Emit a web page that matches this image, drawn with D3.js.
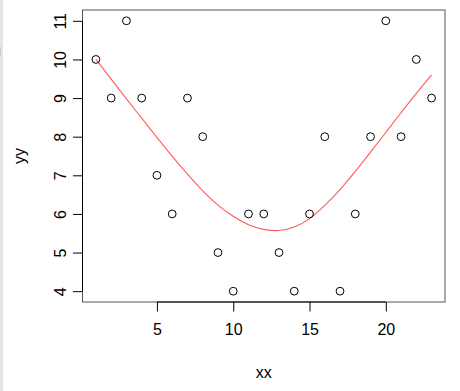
<!DOCTYPE html>
<html>
<head>
<meta charset="utf-8">
<script src="https://cdn.jsdelivr.net/npm/d3@7"></script>
<style>
  html, body { margin: 0; padding: 0; background: #fff; }
  svg { display: block; }
  text { font-family: "Liberation Sans", Arial, Helvetica, sans-serif; fill: #000; }
</style>
</head>
<body>
<svg id="chart" width="460" height="391"></svg>
<script>
// observed points
var xx = [1, 2, 3, 4, 5, 6, 7, 8, 9, 10, 11, 12, 13, 14, 15, 16, 17, 18, 19, 20, 21, 22, 23];
var yy = [10, 9, 11, 9, 7, 6, 9, 8, 5, 4, 6, 6, 5, 4, 6, 8, 4, 6, 8, 11, 8, 10, 9];

// red smoothed line
var fitX = [1, 2, 3, 4, 5, 6, 7, 8, 9, 10, 11, 12, 13, 14, 15, 16, 17, 18, 19, 20, 21, 22, 23];
var fitY = [10.0, 9.49, 8.98, 8.48, 7.98, 7.49, 7.03, 6.6, 6.23, 5.94, 5.72, 5.6, 5.57, 5.66, 5.88, 6.22, 6.63, 7.1, 7.6, 8.11, 8.62, 9.12, 9.6];

var xTicks = [5, 10, 15, 20];
var yTicks = [4, 5, 6, 7, 8, 9, 10, 11];

var svg = d3.select("#chart");
var box = {left: 82.5, right: 445, top: 10, bottom: 302};

// thin grey strip at the left edge of the window
svg.append("rect").attr("x", 0).attr("y", 0).attr("width", 3).attr("height", 391).style("fill", "#e3e5e9");
svg.append("rect").attr("x", 0).attr("y", 47).attr("width", 1).attr("height", 9).style("fill", "#c9ccd2");

// R pads the range by 4% on each side
var xPad = (d3.max(xx) - d3.min(xx)) * 0.04,
    yPad = (d3.max(yy) - d3.min(yy)) * 0.04;
var xScale = d3.scaleLinear().domain([d3.min(xx) - xPad, d3.max(xx) + xPad]).range([box.left, box.right]),
    yScale = d3.scaleLinear().domain([d3.min(yy) - yPad, d3.max(yy) + yPad]).range([box.bottom, box.top]);

// plot box
svg.append("rect")
    .attr("x", box.left)
    .attr("y", box.top)
    .attr("width", box.right - box.left)
    .attr("height", box.bottom - box.top)
    .style("fill", "none")
    .style("stroke", "#555")
    .style("stroke-width", 1);

// x axis
var xAxis = svg.append("g")
    .attr("transform", "translate(0," + box.bottom + ")")
    .call(d3.axisBottom(xScale).tickValues(xTicks).tickSize(9.5).tickPadding(12).tickSizeOuter(0));
xAxis.select(".domain").attr("d", "M" + xScale(xTicks[0]) + ",0H" + xScale(xTicks[xTicks.length - 1]));
xAxis.selectAll("text").style("font-size", "16px").style("font-family", "Liberation Sans, Arial, sans-serif");

// y axis
var yAxis = svg.append("g")
    .attr("transform", "translate(" + box.left + ",0)")
    .call(d3.axisLeft(yScale).tickValues(yTicks).tickSize(9.5).tickSizeOuter(0));
yAxis.select(".domain").attr("d", "M0," + yScale(yTicks[0]) + "V" + yScale(yTicks[yTicks.length - 1]));
yAxis.selectAll(".tick text")
    .attr("x", 0).attr("y", 0).attr("dy", null)
    .attr("transform", "translate(-22,0) rotate(-90)")
    .attr("text-anchor", "middle")
    .attr("dominant-baseline", "central")
    .style("font-size", "16px")
    .style("font-family", "Liberation Sans, Arial, sans-serif");

svg.selectAll(".domain, .tick line").style("stroke", "#000").style("stroke-width", 1);

// axis titles
svg.append("text")
    .attr("x", (box.left + box.right) / 2)
    .attr("y", 372)
    .attr("text-anchor", "middle")
    .attr("dominant-baseline", "central")
    .style("font-size", "16px")
    .text("xx");

svg.append("text")
    .attr("text-anchor", "middle")
    .attr("dominant-baseline", "central")
    .attr("transform", "translate(19," + (box.top + box.bottom) / 2 + ")rotate(-90)")
    .style("font-size", "16px")
    .text("yy");

// fitted curve
var line = d3.line()
    .x(function(d, i) { return xScale(d); })
    .y(function(d, i) { return yScale(fitY[i]); })
    .curve(d3.curveNatural);

svg.append("path")
    .datum(fitX)
    .attr("d", line)
    .style("fill", "none")
    .style("stroke", "#ff5a5a")
    .style("stroke-width", 1.1);

// points
svg.append("g")
    .selectAll("circle")
    .data(xx)
    .enter()
    .append("circle")
    .attr("cx", function(d) { return xScale(d); })
    .attr("cy", function(d, i) { return yScale(yy[i]); })
    .attr("r", 3.9)
    .style("fill", "none")
    .style("stroke", "#000")
    .style("stroke-width", 1);
</script>
</body>
</html>
